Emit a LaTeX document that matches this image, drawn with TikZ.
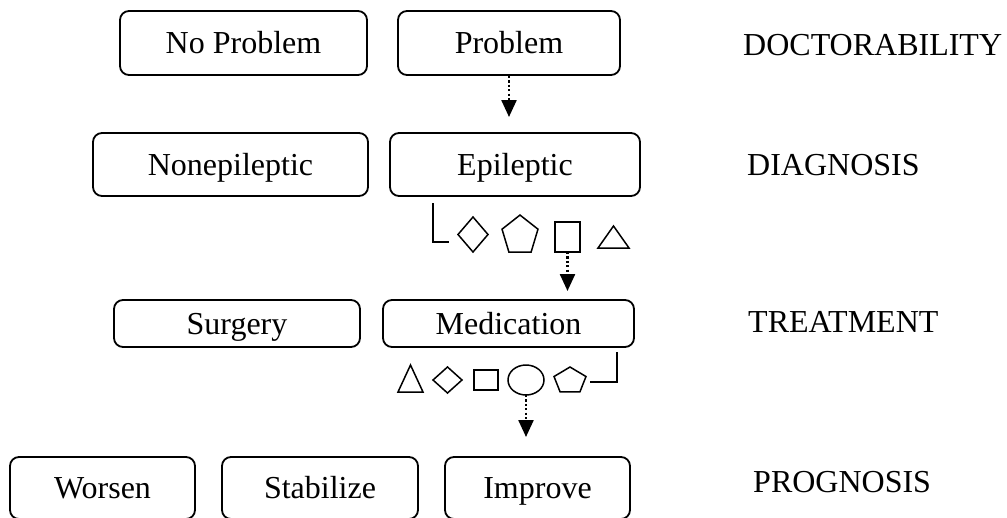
\documentclass[tikz,border=0pt]{standalone}
\usepackage{fontspec}
\setmainfont{Liberation Serif}
\usetikzlibrary{arrows.meta,shapes.geometric}
\begin{document}
\begin{tikzpicture}[x=1pt,y=-1pt,
  box/.style={draw,line width=1.8pt,rounded corners=9pt,inner sep=0pt,font=\fontsize{32}{38}\selectfont,text height=21pt,text depth=0pt},
  lab/.style={anchor=base west,inner sep=0pt,font=\fontsize{32}{38}\selectfont},
  sh/.style={draw,line width=1.5pt,inner sep=0pt,outer sep=0pt},
  arr/.style={line width=2.4pt,dash pattern=on 2.2pt off 2.2pt,-{Triangle[width=15pt,length=17pt]}},
  brk/.style={line width=1.8pt},
  pent/.pic={\draw[sh] (0,-1) -- (0.951,-0.309) -- (0.588,0.809) -- (-0.588,0.809) -- (-0.951,-0.309) -- cycle;},
  dia/.pic={\draw[sh] (0,-1) -- (1,0) -- (0,1) -- (-1,0) -- cycle;},
  tri/.pic={\draw[sh] (0,-1) -- (1,1) -- (-1,1) -- cycle;}
]
\useasboundingbox (0,0) rectangle (1007,517);
% row 1
\node[box,minimum width=247pt,minimum height=64pt] (noprob) at (243.5,43) {No Problem};
\node[box,minimum width=222pt,minimum height=64pt] (prob) at (509,43) {Problem};
\node[lab] (ldoc) at (743,55) {DOCTORABILITY};
\coordinate (a1) at (509,117);
\draw[arr] (prob.south) -- (a1);
% row 2
\node[box,minimum width=275pt,minimum height=63pt] (nonep) at (230.5,164.5) {Nonepileptic};
\node[box,minimum width=250pt,minimum height=63pt] (epil) at (515,164.5) {Epileptic};
\node[lab] (ldia) at (747,175) {DIAGNOSIS};
\draw[brk] (433,203) -- (433,242) -- (449,242);
\pic[xscale=15,yscale=17.5] at (473,234.5) {dia};
\pic[xscale=18.9,yscale=20.45] at (520,235.5) {pent};
\node[sh,minimum width=25pt,minimum height=30pt] (sq1) at (567.5,237) {};
\pic[xscale=15.5,yscale=11] at (613.5,237) {tri};
\coordinate (a2) at (567.5,291);
\draw[arr] (sq1.south) -- (a2);
% row 3
\node[box,minimum width=246pt,minimum height=47pt] (surg) at (237,323.5) {Surgery};
\node[box,minimum width=251pt,minimum height=47pt] (med) at (508.5,323.5) {Medication};
\node[lab] (ltre) at (748,332) {TREATMENT};
\pic[xscale=12.5,yscale=13.5] at (410.5,378.5) {tri};
\pic[xscale=14.5,yscale=13] at (447.5,380) {dia};
\node[sh,minimum width=24pt,minimum height=20pt] (sq2) at (486,380) {};
\node[sh,ellipse,minimum width=36pt,minimum height=30pt] (ell) at (526,380) {};
\pic[xscale=16.8,yscale=13.8] at (570,380.8) {pent};
\draw[brk] (590,382) -- (617,382) -- (617,352);
\coordinate (a3) at (526,437);
\draw[arr] (ell.south) -- (a3);
% row 4
\node[box,minimum width=185pt,minimum height=62pt] (wors) at (102.5,488) {Worsen};
\node[box,minimum width=196pt,minimum height=62pt] (stab) at (320,488) {Stabilize};
\node[box,minimum width=185pt,minimum height=62pt] (impr) at (537.5,488) {Improve};
\node[lab] (lpro) at (753,492) {PROGNOSIS};
\end{tikzpicture}
\end{document}
